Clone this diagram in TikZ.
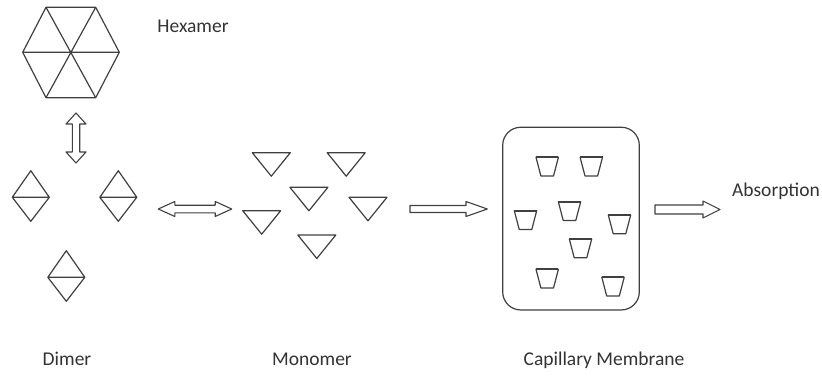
\documentclass[tikz,border=0pt]{standalone}
\usepackage{fontspec}
\setmainfont{Carlito}
\definecolor{ln}{HTML}{404040}
\definecolor{tx}{HTML}{333333}
\begin{document}
\begin{tikzpicture}[x=1pt,y=-1pt, line join=round,
  shp/.style={draw=ln, line width=1.2pt},
  lbl/.style={font=\fontsize{19.5}{22}\selectfont, text=tx, inner sep=0, anchor=base},
  barrow/.style={draw=ln, line width=1.1pt, fill=white},
  pics/dimer/.style={code={\draw[shp] (0,-26.6) -- (18.5,0) -- (0,24) -- (-18.5,0) -- cycle (-18.5,0) -- (18.5,0);}},
  pics/mono/.style={code={\draw[shp] (-19,0) -- (19,0) -- (0,23.5) -- cycle;}},
  pics/cup/.style={code={\draw[shp] (-11.2,0) -- (11.2,0) -- (6.3,18.7) -- (-6.3,18.7) -- cycle; \draw[draw=ln, line width=1.8pt] (-11.2,0) -- (11.2,0);}}
]
\useasboundingbox[fill=white] (0,0) rectangle (822,375);

% Hexamer
\coordinate (h1) at (46,7.3);
\coordinate (h2) at (95.7,7.3);
\coordinate (h3) at (119.3,52.3);
\coordinate (h4) at (95.7,97.7);
\coordinate (h5) at (46,97.7);
\coordinate (h6) at (22.7,52.3);
\draw[shp] (h1) -- (h2) -- (h3) -- (h4) -- (h5) -- (h6) -- cycle;
\draw[shp] (h1) -- (h4) (h2) -- (h5) (h3) -- (h6);
\node[lbl] (hex) at (193,32.3) {Hexamer};

% vertical double arrow (hexamer <-> dimer)
\coordinate (a1) at (76,113);
\draw[barrow, shift={(a1)}] (0,0) -- (10,11) -- (3.7,11) -- (3.7,39) -- (10,39) -- (0,50)
   -- (-10,39) -- (-3.7,39) -- (-3.7,11) -- (-10,11) -- cycle;

% Dimers
\pic at (30.8,197.3) {dimer};
\pic at (118.3,197.3) {dimer};
\pic at (66.3,277.3) {dimer};

% horizontal double arrow (dimer <-> monomer)
\coordinate (a2) at (158.3,209);
\draw[barrow, shift={(a2)}] (0,0) -- (16.5,-7.5) -- (16.5,-3.8) -- (56.9,-3.8) -- (56.9,-7.5) -- (73.4,0)
   -- (56.9,7.5) -- (56.9,3.8) -- (16.5,3.8) -- (16.5,7.5) -- cycle;

% Monomers
\pic at (271.3,152.7) {mono};
\pic at (346.2,152.7) {mono};
\pic at (308.9,187.3) {mono};
\pic at (368,197.3) {mono};
\pic at (261.7,210.7) {mono};
\pic at (316.8,235) {mono};

% arrow to membrane
\coordinate (a3) at (410,209);
\draw[barrow, shift={(a3)}] (0,-3.5) -- (56,-3.5) -- (56,-7.5) -- (77.3,0) -- (56,7.5) -- (56,3.5) -- (0,3.5) -- cycle;

% Membrane
\node[draw=ln, line width=1.2pt, rounded corners=18pt, minimum width=136.6, minimum height=182.7, inner sep=0] (mem) at (571,218.6) {};
\pic at (547.2,157.3) {cup};
\pic at (591.3,157.3) {cup};
\pic at (525.5,210.7) {cup};
\pic at (569.5,201.7) {cup};
\pic at (619.5,215) {cup};
\pic at (580.5,239) {cup};
\pic at (547.2,269.3) {cup};
\pic at (613,277.3) {cup};

% arrow to absorption
\coordinate (a4) at (655,209.5);
\draw[barrow, shift={(a4)}] (0,-4.5) -- (48,-4.5) -- (48,-8.5) -- (65,0) -- (48,8.5) -- (48,4.5) -- (0,4.5) -- cycle;
\node[lbl] (abs) at (776,196.7) {Absorption};

% bottom labels
\node[lbl] (dim) at (67,365.5) {Dimer};
\node[lbl] (mon) at (312,365.5) {Monomer};
\node[lbl] (cap) at (604,365.5) {Capillary Membrane};
\end{tikzpicture}
\end{document}
